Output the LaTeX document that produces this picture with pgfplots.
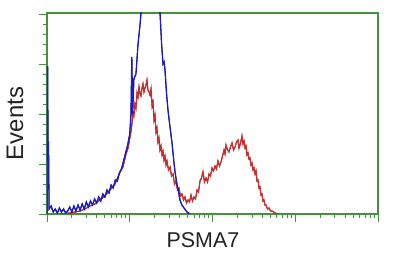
\documentclass[border=0pt]{standalone}
\usepackage{pgfplots}
\usepackage{pgfplotstable}
\pgfplotsset{compat=1.18}
\usepackage{fontspec}
\setmainfont{Liberation Sans}
\definecolor{gcol}{RGB}{70,145,60}
\definecolor{bcol}{RGB}{25,25,240}
\definecolor{bdark}{RGB}{25,25,100}
\definecolor{rcol}{RGB}{235,40,40}
\definecolor{rdark}{RGB}{120,35,35}
\definecolor{txt}{RGB}{35,35,35}

\pgfplotstableread{
lx y
0.000 0
0.002 147
0.008 147
0.012 72
0.018 72
0.025 5
0.050 8
0.075 2
0.100 5
0.125 1
0.150 6
0.175 2
0.200 5
0.225 1
0.250 3
0.275 7
0.300 2
0.325 8
0.350 3
0.375 9
0.400 4
0.425 10
0.450 5
0.475 12
0.500 7
0.525 13
0.550 9
0.575 15
0.600 11
0.625 17
0.650 13
0.675 20
0.700 17
0.725 24
0.750 21
0.775 29
0.800 26
0.825 34
0.850 33
0.875 41
0.900 45
0.925 53
0.950 61
0.975 69
1.000 80
1.015 100
1.025 157
1.035 100
1.050 135
1.075 140
1.100 170
1.125 190
1.150 215
1.200 240
1.300 240
1.350 230
1.366 201
1.385 170
1.402 150
1.415 152
1.426 144
1.445 120
1.462 104
1.485 88
1.511 71
1.530 55
1.547 42
1.570 30
1.590 22
1.607 14
1.630 9
1.656 6
1.692 2
1.728 0
}\blue

\pgfplotstableread{
lx y
0.157 0
0.278 1
0.399 3
0.459 5
0.520 8
0.580 10
0.640 14
0.701 18
0.761 24
0.822 30
0.882 42
0.918 47
0.955 60
0.980 66
1.003 77
1.020 85
1.039 101
1.050 98
1.063 110
1.075 106
1.088 121
1.100 117
1.112 127
1.124 120
1.136 118
1.148 126
1.160 130
1.172 122
1.184 126
1.196 129
1.208 134
1.220 124
1.233 122
1.245 119
1.257 125
1.270 108
1.281 112
1.293 94
1.305 99
1.317 82
1.329 86
1.341 72
1.353 76
1.365 64
1.378 68
1.390 59
1.402 63
1.414 54
1.426 58
1.438 49
1.450 53
1.468 44
1.487 47
1.505 38
1.523 40
1.541 30
1.559 33
1.577 24
1.595 26
1.613 18
1.631 20
1.650 14
1.668 17
1.686 11
1.704 14
1.722 12
1.740 19
1.758 13
1.776 17
1.795 15
1.813 24
1.831 22
1.849 33
1.867 36
1.885 42
1.903 32
1.921 36
1.940 32
1.958 40
1.976 38
1.994 46
2.012 43
2.030 48
2.048 45
2.066 53
2.085 48
2.103 52
2.121 58
2.139 64
2.151 60
2.163 69
2.181 64
2.199 62
2.217 67
2.236 71
2.254 64
2.272 67
2.290 72
2.308 74
2.320 66
2.332 69
2.344 73
2.356 78
2.368 70
2.381 73
2.393 66
2.405 68
2.417 59
2.429 61
2.441 55
2.453 56
2.465 49
2.477 51
2.490 44
2.502 46
2.514 40
2.526 43
2.538 33
2.550 34
2.562 26
2.574 27
2.586 19
2.598 20
2.610 13
2.622 14
2.634 9
2.646 9
2.665 5
2.683 6
2.701 3
2.719 3
2.755 1
2.792 0
}\red

\begin{document}
\begin{tikzpicture}
\begin{axis}[
  at={(0,0)}, anchor=south west,
  scale only axis, width=331bp, height=201bp,
  xmin=0, xmax=4, ymin=0, ymax=201,
  axis line style={draw=gcol, line width=1.1pt},
  tick style={draw=gcol, line width=0.9pt},
  tick align=outside,
  major tick length=8bp, minor tick length=4bp,
  xtick pos=bottom, ytick pos=left,
  xtick={0,1,2,3,4},
  minor xtick={0.301,0.477,0.602,0.699,0.778,0.845,0.903,0.954,
               1.301,1.477,1.602,1.699,1.778,1.845,1.903,1.954,
               2.301,2.477,2.602,2.699,2.778,2.845,2.903,2.954,
               3.301,3.477,3.602,3.699,3.778,3.845,3.903,3.954},
  ytick={0,50,100,150,200},
  minor ytick={10,20,30,40,60,70,80,90,110,120,130,140,160,170,180,190},
  xticklabels={}, yticklabels={},
  xlabel={PSMA7},
  xlabel style={at={(axis description cs:0.471,-0.169)}, anchor=base,
    font=\fontsize{21.5}{24}\selectfont, text=txt},
  ylabel={Events},
  ylabel style={at={(axis description cs:-0.0725,0.45)}, anchor=base,
    font=\fontsize{24}{26}\selectfont, text=txt},
]
\addplot[rdark, line width=1.2pt, no marks] table[x=lx,y=y] {\red};
\addplot[rcol, line width=0.75pt, no marks] table[x=lx,y=y] {\red};
\addplot[bdark, line width=1.3pt, no marks] table[x=lx,y=y] {\blue};
\addplot[bcol, line width=0.8pt, no marks] table[x=lx,y=y] {\blue};
\end{axis}
\pgfresetboundingbox
\path (-47bp,-51bp) rectangle (353bp,214bp);
\end{tikzpicture}
\end{document}
